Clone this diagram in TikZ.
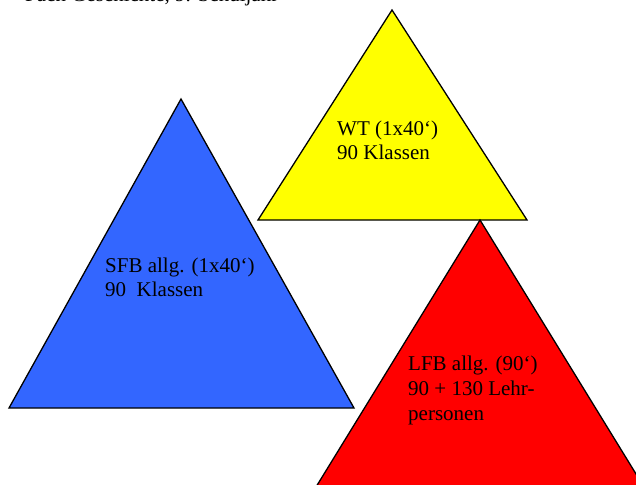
\documentclass[tikz,border=0pt]{standalone}
\usepackage{fontspec}
\setmainfont{Liberation Serif}
\definecolor{triblue}{HTML}{3366FF}
\definecolor{triyellow}{HTML}{FFFF00}
\definecolor{trired}{HTML}{FF0000}
\begin{document}
\begin{tikzpicture}[x=1pt,y=-1pt,
  tri/.style={draw=black,line width=1.3pt,line join=miter},
  lbl/.style={anchor=base west,inner sep=0pt,font=\fontsize{21}{24}\selectfont}]
\useasboundingbox (0,0) rectangle (636,484);
\begin{scope}
\clip (0,0) rectangle (636,484);
\node[lbl] (title) at (25,2) {Fach Geschichte, 9. Schuljahr};
\filldraw[tri,fill=triblue] (181,99) -- (354,408) -- (9,408) -- cycle;
\filldraw[tri,fill=triyellow] (392,10) -- (527,220) -- (258,220) -- cycle;
\filldraw[tri,fill=trired] (480,220) -- (652,500) -- (308,500) -- cycle;
\node[lbl] (wt1) at (337,135) {WT (1x40‘)};
\node[lbl] (wt2) at (337,159) {90 Klassen};
\node[lbl] (sfb1) at (105,272) {SFB allg. (1x40‘)};
\node[lbl] (sfb2) at (105,296) {90\ \ Klassen};
\node[lbl] (lfb1) at (408,370) {LFB allg. (90‘)};
\node[lbl] (lfb2) at (408,395) {90 + 130 Lehr-};
\node[lbl] (lfb3) at (408,420) {personen};
\end{scope}
\end{tikzpicture}
\end{document}
